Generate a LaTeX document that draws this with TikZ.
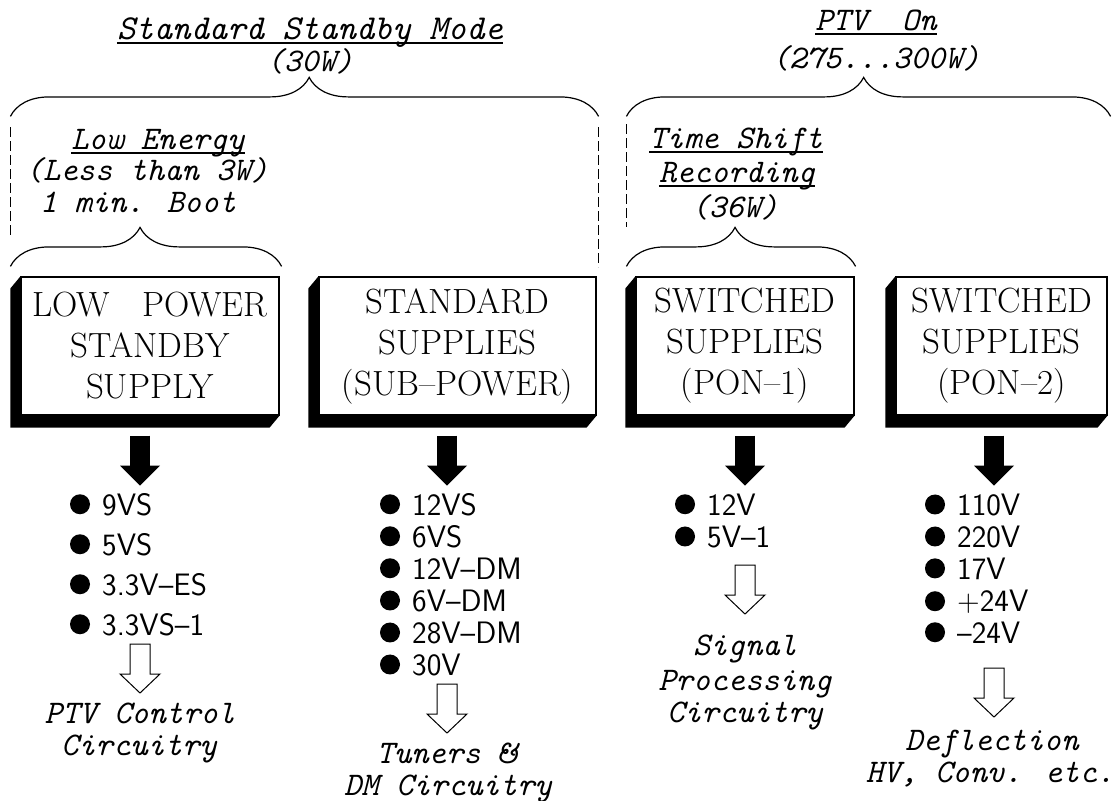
\documentclass[tikz,border=0pt]{standalone}
\usepackage{tikz}
\usetikzlibrary{arrows.meta,decorations.pathreplacing}

\tikzset{
  supply/.style={draw, line width=1.2pt, fill=white, align=center, inner sep=0pt,
    minimum height=138pt, font=\fontsize{35}{41}\selectfont},
  note/.style={inner sep=0pt, anchor=base, font=\fontsize{33}{33}\selectfont\ttfamily\itshape},
  volt/.style={inner sep=0pt, anchor=base west, font=\fontsize{31}{31}\selectfont\sffamily},
  power/.style={line width=20pt, -{Triangle[length=20pt,width=40pt,line width=0pt]}},
  curly/.style={line width=1.2pt, decorate, decoration={brace, amplitude=39pt, aspect=#1}},
  guide/.style={line width=1pt, dash pattern=on 10pt off 4pt},
  hollow/.pic={\draw[line width=1pt, fill=white] (-10,0) -- (10,0) -- (10,30) -- (20,30)
    -- (0,49) -- (-20,30) -- (-10,30) -- cycle;}
}

\begin{document}
\begin{tikzpicture}[x=1pt, y=-1pt]
    \useasboundingbox (0,0) rectangle (1112,801);

    % supply boxes
    \node[supply, minimum width=258pt] (lps) at (150,346) {LOW~~~POWER\\STANDBY\\SUPPLY};
    \node[supply, minimum width=277pt] (std) at (457.5,346) {STANDARD\\SUPPLIES\\(SUB--POWER)};
    \node[supply, minimum width=218pt] (pon1) at (745,346) {SWITCHED\\SUPPLIES\\(PON--1)};
    \node[supply, minimum width=211pt] (pon2) at (1001.5,346) {SWITCHED\\SUPPLIES\\(PON--2)};

    \foreach \b in {lps,std,pon1,pon2}
        \fill (\b.north west) -- ++(-10,12) -- ([shift={(-10,12)}]\b.south west)
            -- ([shift={(-10,12)}]\b.south east) -- (\b.south east) -- (\b.south west) -- cycle;

    % modes
    \node[note, font=\fontsize{35}{35}\selectfont\ttfamily\itshape] (ssm) at (310,39) {Standard Standby Mode};
    \node[note] (ssw) at (310,71) {(30W)};
    \node[note] (ptv) at (876,30) {PTV~~On};
    \node[note] (ptvw) at (876,68) {(275...300W)};
    \node[note] (lowe) at (158,149) {Low Energy};
    \node[note] (less) at (147,180) {(Less than 3W)};
    \node[note] (boot) at (138,212) {1 min. Boot};
    \node[note] (tsh) at (736,148) {Time Shift};
    \node[note] (rec) at (737,182) {Recording};
    \node[note] (tsw) at (735,217) {(36W)};

    \foreach \n in {ssm,ptv,lowe,tsh,rec}
        \draw[line width=1.2pt] ([shift={(0,4)}]\n.base west) -- ([shift={(0,4)}]\n.base east);

    \draw[curly=0.508] ([shift={(-10,-160)}]lps.north west) -- ([shift={(2,-160)}]std.north east);
    \draw[curly=0.49] ([shift={(-9,-160)}]pon1.north west) -- ([shift={(3,-160)}]pon2.north east);
    \draw[curly=0.478] ([shift={(-10,-10)}]lps.north west) -- ([shift={(2,-10)}]lps.north east);
    \draw[curly=0.474] ([shift={(-9,-10)}]pon1.north west) -- ([shift={(1,-10)}]pon1.north east);

    \draw[guide] ([shift={(-10,-149)}]lps.north west) -- ++(0,109);
    \draw[guide] ([shift={(2,-149)}]std.north east) -- ++(0,140);
    \draw[guide] ([shift={(-9,-152)}]pon1.north west) -- ++(0,103);

    % outputs
    \draw[power] ([shift={(-10,20)}]lps.south) -- ++(0,50);
    \draw[power] ([shift={(-10.5,20)}]std.south) -- ++(0,50);
    \draw[power] ([shift={(0,20)}]pon1.south) -- ++(0,50);
    \draw[power] ([shift={(-7.5,20)}]pon2.south) -- ++(0,50);

    \foreach \t [count=\i] in {9VS,5VS,3.3V--ES,3.3VS--1}
        \node[volt] (lv\i) at (102,475+40*\i) {\t};
    \foreach \t [count=\i] in {12VS,6VS,12V--DM,6V--DM,28V--DM,30V}
        \node[volt] (sv\i) at (412,483+32*\i) {\t};
    \foreach \t [count=\i] in {12V,5V--1}
        \node[volt] (pa\i) at (707,483+32*\i) {\t};
    \foreach \t [count=\i] in {110V,220V,17V,+24V,--24V}
        \node[volt] (pb\i) at (957,483+32*\i) {\t};
    \foreach \v in {lv1,lv2,lv3,lv4,sv1,sv2,sv3,sv4,sv5,sv6,pa1,pa2,pb1,pb2,pb3,pb4,pb5}
        \fill ([shift={(-22,0)}]\v.west) circle[radius=10pt];

    \pic at (140,644) {hollow};
    \pic at (447,684) {hollow};
    \pic at (745,565) {hollow};
    \pic at (994,668) {hollow};

    % loads
    \node[note] (ctl1) at (140,723) {PTV Control};
    \node[note] (ctl2) at (139,755) {Circuitry};
    \node[note] (tun1) at (446,763) {Tuners \&};
    \node[note] (tun2) at (448,795) {DM Circuitry};
    \node[note] (sig1) at (745,655) {Signal};
    \node[note] (sig2) at (745,690) {Processing};
    \node[note] (sig3) at (745,722) {Circuitry};
    \node[note] (def1) at (992,750) {Deflection};
    \node[note] (def2) at (990,782) {HV, Conv. etc.};

\end{tikzpicture}
\end{document}
